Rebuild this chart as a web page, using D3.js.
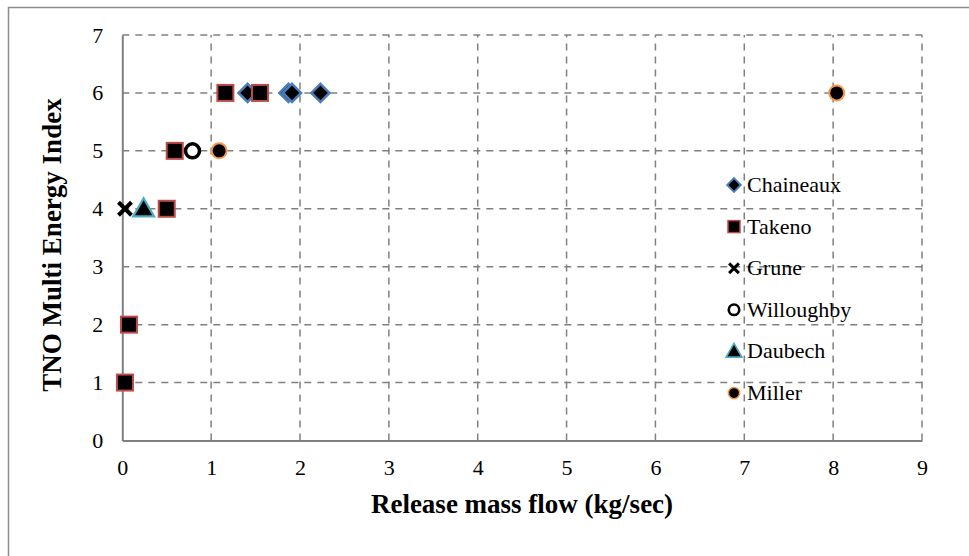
<!DOCTYPE html>
<html>
<head>
<meta charset="utf-8">
<script src="https://cdn.jsdelivr.net/npm/d3@7"></script>
<style>
  body { margin: 0; background: #fff; }
  text { font-family: "Liberation Serif", "Times New Roman", serif; fill: #000; }
</style>
</head>
<body>
<svg id="chart" width="969" height="556"></svg>
<script>
// données
var seriesNames = ['Chaineaux', 'Takeno', 'Grune', 'Willoughby', 'Daubech', 'Miller'];
var chaineauxX = [1.41, 1.87, 1.91, 2.23];
var chaineauxY = [6, 6, 6, 6];
var takenoX = [1.16, 1.55, 0.59, 0.50, 0.075, 0.03];
var takenoY = [6, 6, 5, 4, 2, 1];
var gruneX = [0.03];
var gruneY = [4];
var willoughbyX = [0.79];
var willoughbyY = [5];
var daubechX = [0.24];
var daubechY = [4];
var millerX = [1.09, 8.04];
var millerY = [5, 6];
var xTicks = [0, 1, 2, 3, 4, 5, 6, 7, 8, 9];
var yTicks = [0, 1, 2, 3, 4, 5, 6, 7];

var svg = d3.select('#chart');

// cadre extérieur
svg.append('rect')
  .attr('x', 8.5).attr('y', 7.5)
  .attr('width', 990).attr('height', 600)
  .attr('fill', 'none').attr('stroke', '#8c8c8c').attr('stroke-width', 1.5);

var x = d3.scaleLinear().domain([0, 9]).range([122.3, 922]);
var y = d3.scaleLinear().domain([0, 7]).range([440.5, 35]);

var grid = '#808080';

// grilles pointillées
svg.append('g').selectAll('line').data(yTicks.filter(d => d > 0)).enter()
  .append('line')
  .attr('x1', x(0)).attr('x2', x(9))
  .attr('y1', d => y(d)).attr('y2', d => y(d))
  .attr('stroke', grid).attr('stroke-width', 1.5).attr('stroke-dasharray', '7,6');
svg.append('g').selectAll('line').data(xTicks.filter(d => d > 0)).enter()
  .append('line')
  .attr('x1', d => x(d)).attr('x2', d => x(d))
  .attr('y1', y(0)).attr('y2', y(7))
  .attr('stroke', grid).attr('stroke-width', 1.5).attr('stroke-dasharray', '7,6');

// axes
var xAxis = d3.axisBottom(x).tickValues(xTicks).tickSize(0).tickPadding(19).tickFormat(d3.format('d'));
var yAxis = d3.axisLeft(y).tickValues(yTicks).tickSize(0).tickPadding(19).tickFormat(d3.format('d'));
var gx = svg.append('g').attr('transform', 'translate(0,' + y(0) + ')').call(xAxis);
var gy = svg.append('g').attr('transform', 'translate(' + x(0) + ',0)').call(yAxis);
[gx, gy].forEach(g => {
  g.select('.domain').attr('stroke', grid).attr('stroke-width', 2);
  g.selectAll('text').style('font-size', '22px').style('font-family', '"Liberation Serif", serif');
});

// titres des axes
svg.append('text')
  .attr('x', 522).attr('y', 513)
  .attr('text-anchor', 'middle')
  .style('font-size', '27px').style('font-weight', 'bold')
  .text('Release mass flow (kg/sec)');
svg.append('text')
  .attr('transform', 'translate(61,245) rotate(-90)')
  .attr('text-anchor', 'middle')
  .style('font-size', '27px').style('font-weight', 'bold')
  .text('TNO Multi Energy Index');

// symboles
function drawMarker(g, name, big) {
  var s = big ? 1 : 0.75;
  if (name == 'Chaineaux') {
    g.append('path').attr('d', d3.symbol().type(d3.symbolDiamond2).size(210 * s * s)())
      .attr('fill', '#000').attr('stroke', '#4a7ebb').attr('stroke-width', 2.5 * s);
  } else if (name == 'Takeno') {
    var w = 16 * s;
    g.append('rect').attr('x', -w / 2).attr('y', -w / 2).attr('width', w).attr('height', w)
      .attr('fill', '#000').attr('stroke', '#be4b48').attr('stroke-width', 2 * s);
  } else if (name == 'Grune') {
    var a = 6.5 * s;
    g.append('path').attr('d', 'M' + (-a) + ',' + (-a) + 'L' + a + ',' + a + 'M' + (-a) + ',' + a + 'L' + a + ',' + (-a))
      .attr('stroke', '#000').attr('stroke-width', 4 * s).attr('fill', 'none');
  } else if (name == 'Willoughby') {
    g.append('circle').attr('r', 7 * s)
      .attr('fill', '#fff').attr('stroke', '#000').attr('stroke-width', 3.5 * s);
  } else if (name == 'Daubech') {
    g.append('path').attr('d', d3.symbol().type(d3.symbolTriangle).size(190 * s * s)())
      .attr('transform', 'translate(0,' + (1.5 * s) + ')')
      .attr('fill', '#000').attr('stroke', '#4bacc6').attr('stroke-width', 2.2 * s);
  } else if (name == 'Miller') {
    g.append('circle').attr('r', 7.5 * s)
      .attr('fill', '#000').attr('stroke', '#f79646').attr('stroke-width', 2 * s);
  }
}

var seriesX = [chaineauxX, takenoX, gruneX, willoughbyX, daubechX, millerX];
var seriesY = [chaineauxY, takenoY, gruneY, willoughbyY, daubechY, millerY];

seriesNames.forEach(function(name, i) {
  var pts = seriesX[i].map((v, j) => [v, seriesY[i][j]]);
  var g = svg.append('g').attr('class', name);
  pts.forEach(function(p) {
    var m = g.append('g').attr('transform', 'translate(' + x(p[0]) + ',' + y(p[1]) + ')');
    drawMarker(m, name, true);
  });
});

// légende
var legend = svg.append('g').attr('transform', 'translate(734,185)');
seriesNames.forEach(function(name, i) {
  var row = legend.append('g').attr('transform', 'translate(0,' + (i * 41.6) + ')');
  drawMarker(row.append('g'), name, false);
  row.append('text').attr('x', 13).attr('y', 7)
    .style('font-size', '22px').text(name);
});
</script>
</body>
</html>
